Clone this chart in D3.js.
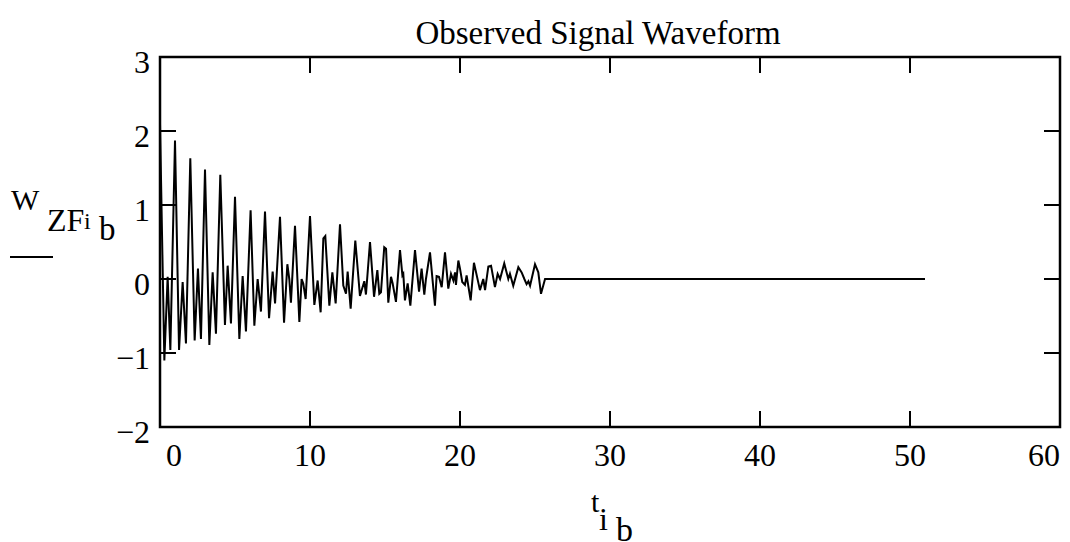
<!DOCTYPE html>
<html>
<head>
<meta charset="utf-8">
<script src="https://cdn.jsdelivr.net/npm/d3@7"></script>
<style>
  body { margin: 0; background: #fff; }
  svg text { font-family: "Liberation Serif", "Times New Roman", serif; fill: #000; }
</style>
</head>
<body>
<div class="container"></div>
<script>
// data
var title = "Observed Signal Waveform";

var tValues = [0.00, 0.29, 0.51, 0.69, 1.00, 1.27, 1.51, 1.73, 2.02, 2.31, 2.53, 2.73,
  3.00, 3.29, 3.51, 3.73, 4.02, 4.33, 4.51, 4.73, 5.00, 5.29, 5.51, 5.73,
  6.04, 6.29, 6.51, 6.73, 7.00, 7.27, 7.51, 7.67, 8.00, 8.27, 8.49, 8.62, 8.73,
  9.00, 9.29, 9.44, 9.55, 9.71, 10.00, 10.29, 10.51, 10.71, 10.89, 11.02,
  11.29, 11.49, 11.71, 12.00, 12.22, 12.40, 12.51, 12.71, 13.02, 13.33, 13.62, 13.73,
  14.00, 14.27, 14.49, 14.62, 14.73, 14.95, 15.07, 15.22, 15.40, 15.51, 15.73,
  16.00, 16.16, 16.22, 16.33, 16.51, 16.69, 17.00, 17.27, 17.44, 17.62, 17.73,
  18.00, 18.33, 18.44, 18.60, 18.78, 19.00, 19.22, 19.40, 19.56, 19.67, 19.73, 19.89,
  20.00, 20.15, 20.33, 20.44, 20.71, 20.93, 21.33, 21.55, 21.67, 21.89, 22.07,
  22.33, 22.51, 22.67, 22.95, 23.22, 23.33, 23.55, 23.89, 24.11, 24.29, 24.44,
  24.56, 24.67, 25.00, 25.22, 25.40, 25.67, 51.00];

var wValues = [2.10, -1.10, 0.03, -0.96, 1.87, -0.96, -0.04, -0.87, 1.63, -0.83, 0.14, -0.81,
  1.48, -0.89, 0.09, -0.74, 1.41, -0.62, 0.18, -0.60, 1.11, -0.81, 0.04, -0.71,
  0.93, -0.63, 0.00, -0.44, 0.91, -0.53, 0.10, -0.33, 0.84, -0.59, 0.20, 0.00, -0.32,
  0.72, -0.58, 0.00, -0.06, -0.27, 0.85, -0.35, -0.02, -0.45, 0.55, 0.58,
  -0.36, 0.09, -0.33, 0.74, -0.09, -0.20, 0.10, -0.40, 0.52, -0.23, -0.03, -0.21,
  0.50, -0.24, 0.12, -0.20, -0.18, 0.43, 0.41, -0.32, 0.03, -0.06, -0.31,
  0.39, 0.05, 0.07, -0.29, -0.06, -0.36, 0.39, -0.17, 0.14, -0.21, 0.00,
  0.36, -0.36, 0.04, 0.03, -0.11, 0.36, -0.13, 0.07, -0.02, 0.09, -0.08, 0.25,
  0.14, -0.04, -0.08, 0.05, -0.29, 0.22, -0.15, 0.00, -0.15, 0.17, 0.18,
  -0.11, 0.07, 0.00, 0.21, 0.00, 0.07, -0.09, 0.16, 0.09, 0.00, -0.07,
  -0.03, -0.09, 0.20, 0.09, -0.20, 0.00, 0.00];

var xTicks = [0, 10, 20, 30, 40, 50, 60];
var yTicks = [-2, -1, 0, 1, 2, 3];

var W = 1070, H = 542;
var plotLeft = 160, plotRight = 1060, plotTop = 57, plotBottom = 427;
var tickLen = 16;

//Makes the stage
function makeStage(w, h) {
  var stage = d3.select(".container")
    .append("svg")
    .attr("width", w)
    .attr("height", h);
  return stage;
}

var svg = makeStage(W, H);

var x = d3.scaleLinear().domain([0, 60]).range([plotLeft, plotRight]);
var y = d3.scaleLinear().domain([-2, 3]).range([plotBottom, plotTop]);

var points = tValues.map(function (t, i) { return [t, wValues[i]]; });

// signal line
var line = d3.line()
  .x(function (d) { return x(d[0]); })
  .y(function (d) { return y(d[1]); });

svg.append("path")
  .datum(points)
  .attr("d", line)
  .attr("fill", "none")
  .attr("stroke", "#000")
  .attr("stroke-width", 2)
  .attr("stroke-linejoin", "miter");

// inner ticks on all four sides
var innerX = xTicks.slice(1, -1);
var innerY = yTicks.slice(1, -1);
var g = svg.append("g").attr("stroke", "#000").attr("stroke-width", 2);

innerX.forEach(function (v) {
  g.append("line").attr("x1", x(v)).attr("x2", x(v)).attr("y1", plotBottom).attr("y2", plotBottom - tickLen);
  g.append("line").attr("x1", x(v)).attr("x2", x(v)).attr("y1", plotTop).attr("y2", plotTop + tickLen);
});
innerY.forEach(function (v) {
  g.append("line").attr("x1", plotLeft).attr("x2", plotLeft + tickLen).attr("y1", y(v)).attr("y2", y(v));
  g.append("line").attr("x1", plotRight).attr("x2", plotRight - tickLen).attr("y1", y(v)).attr("y2", y(v));
});

// frame
svg.append("rect")
  .attr("x", plotLeft).attr("y", plotTop)
  .attr("width", plotRight - plotLeft).attr("height", plotBottom - plotTop)
  .attr("fill", "none")
  .attr("stroke", "#000")
  .attr("stroke-width", 2.5);

// x tick labels (end ones pulled inside like Mathcad does)
svg.selectAll(".xl")
  .data(xTicks)
  .enter().append("text")
  .attr("class", "xl")
  .attr("x", function (d) {
    if (d === 0) return x(d) + 14;
    if (d === 60) return x(d) - 16;
    return x(d);
  })
  .attr("y", 466)
  .attr("text-anchor", "middle")
  .attr("font-size", 32)
  .text(function (d) { return d; });

// y tick labels
svg.selectAll(".yl")
  .data(yTicks)
  .enter().append("text")
  .attr("class", "yl")
  .attr("x", 150)
  .attr("y", function (d) { return y(d) + 16; })
  .attr("text-anchor", "end")
  .attr("font-size", 32)
  .text(function (d) { return d < 0 ? "\u2212" + Math.abs(d) : d; });

// title
svg.append("text")
  .attr("x", 598).attr("y", 44)
  .attr("text-anchor", "middle")
  .attr("font-size", 33)
  .text(title);

// y axis label W ZF i b with bar underneath
svg.append("text").attr("x", 11).attr("y", 210).attr("font-size", 30).text("W");
svg.append("text").attr("x", 47).attr("y", 231).attr("font-size", 32).text("ZF");
svg.append("text").attr("x", 84).attr("y", 229).attr("font-size", 24).text("i");
svg.append("text").attr("x", 99).attr("y", 240).attr("font-size", 33).text("b");
svg.append("line")
  .attr("x1", 10).attr("x2", 53).attr("y1", 257).attr("y2", 257)
  .attr("stroke", "#000").attr("stroke-width", 2);

// x axis label t i b
svg.append("text").attr("x", 591).attr("y", 512).attr("font-size", 30).text("t");
svg.append("text").attr("x", 599).attr("y", 530).attr("font-size", 32).text("i");
svg.append("text").attr("x", 616).attr("y", 541).attr("font-size", 34).text("b");
</script>
</body>
</html>
